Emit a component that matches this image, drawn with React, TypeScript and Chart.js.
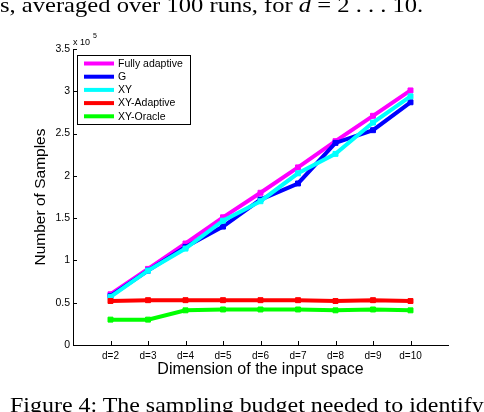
import { useEffect, useRef } from 'react'
import { Chart, registerables } from 'chart.js'

Chart.register(...registerables)

const dims = [2, 3, 4, 5, 6, 7, 8, 9, 10]
const seriesNames = ['Fully adaptive', 'G', 'XY', 'XY-Adaptive', 'XY-Oracle']
const seriesColors = ['#ff00ff', '#0000ff', '#00ffff', '#ff0000', '#00ff00']
const fullyAdaptive = [0.6, 0.9, 1.2, 1.51, 1.8, 2.1, 2.41, 2.71, 3.01]
const gValues = [0.58, 0.88, 1.16, 1.4, 1.72, 1.91, 2.39, 2.54, 2.87]
const xyValues = [0.57, 0.88, 1.14, 1.47, 1.7, 2.03, 2.26, 2.63, 2.94]
const xyAdaptive = [0.52, 0.53, 0.53, 0.53, 0.53, 0.53, 0.52, 0.53, 0.52]
const xyOracle = [0.3, 0.3, 0.41, 0.42, 0.42, 0.42, 0.41, 0.42, 0.41]
const yTicks = [0, 0.5, 1, 1.5, 2, 2.5, 3, 3.5]

const allSeries = [fullyAdaptive, gValues, xyValues, xyAdaptive, xyOracle]
const FONT = '"Liberation Sans", Arial, sans-serif'

// matlab-style extras: inward ticks, "x 10^5" and the boxed legend
const matlabPlugin = {
  id: 'matlabExtras',
  afterDraw(chart: Chart) {
    const { ctx, chartArea: a, scales } = chart
    const x = scales.x
    const y = scales.y
    ctx.save()
    ctx.strokeStyle = '#000'
    ctx.lineWidth = 1
    ctx.beginPath()
    yTicks.forEach((t) => {
      const py = Math.round(y.getPixelForValue(t)) + 0.5
      ctx.moveTo(a.left, py)
      ctx.lineTo(a.left + 4, py)
    })
    dims.forEach((d) => {
      const px = Math.round(x.getPixelForValue(d)) + 0.5
      ctx.moveTo(px, a.bottom)
      ctx.lineTo(px, a.bottom - 4)
    })
    ctx.stroke()

    ctx.fillStyle = '#000'
    ctx.textBaseline = 'alphabetic'
    ctx.textAlign = 'left'
    ctx.font = `9px ${FONT}`
    ctx.fillText('x 10', a.left, a.top - 4)
    ctx.font = `7px ${FONT}`
    ctx.fillText('5', a.left + 20, a.top - 11)

    // legend box
    const lx = 77.5
    const ly = 55.5
    const lw = 113
    const lh = 69
    ctx.fillStyle = '#fff'
    ctx.fillRect(lx, ly, lw, lh)
    ctx.strokeRect(lx, ly, lw, lh)
    ctx.font = `10.5px ${FONT}`
    ctx.textBaseline = 'middle'
    seriesNames.forEach((name, i) => {
      const ry = 63.5 + i * 13.2
      ctx.strokeStyle = seriesColors[i]
      ctx.lineWidth = 4
      ctx.beginPath()
      ctx.moveTo(84, ry)
      ctx.lineTo(114, ry)
      ctx.stroke()
      ctx.fillStyle = '#000'
      ctx.fillText(name, 118, ry + 0.5)
    })
    ctx.restore()
  },
}

function SamplesChart() {
  const canvasRef = useRef<HTMLCanvasElement | null>(null)
  const chartRef = useRef<Chart | null>(null)

  useEffect(() => {
    if (!canvasRef.current) return
    const ctx = canvasRef.current.getContext('2d')!

    chartRef.current = new Chart(ctx, {
      type: 'line',
      data: {
        datasets: allSeries.map((vals, i) => ({
          label: seriesNames[i],
          data: vals.map((v, j) => ({ x: dims[j], y: v })),
          borderColor: seriesColors[i],
          backgroundColor: seriesColors[i],
          borderWidth: 4,
          pointStyle: 'rect',
          pointRadius: 3.5,
          pointBorderWidth: 1,
          pointBorderColor: seriesColors[i],
          tension: 0,
          order: allSeries.length - i,
        })),
      },
      options: {
        responsive: false,
        animation: false,
        events: [],
        layout: { padding: { left: 0, top: 49, right: 36, bottom: 0 } },
        plugins: {
          legend: { display: false },
          tooltip: { enabled: false },
        },
        scales: {
          x: {
            type: 'linear',
            min: 1,
            max: 11,
            afterFit: (s: any) => {
              s.height = 67
            },
            afterBuildTicks: (s: any) => {
              s.ticks = dims.map((d) => ({ value: d }))
            },
            grid: { display: false, drawTicks: false },
            border: { display: true, color: '#000', width: 1 },
            ticks: {
              color: '#000',
              font: { family: FONT, size: 10 },
              padding: 5,
              maxRotation: 0,
              autoSkip: false,
              callback: (v: any) => 'd=' + v,
            },
            title: {
              display: true,
              text: 'Dimension of the input space',
              color: '#000',
              font: { family: FONT, size: 16 },
              padding: { top: 0, bottom: 33 },
            },
          },
          y: {
            min: 0,
            max: 3.5,
            afterFit: (s: any) => {
              s.width = 73
            },
            afterBuildTicks: (s: any) => {
              s.ticks = yTicks.map((t) => ({ value: t }))
            },
            grid: { display: false, drawTicks: false },
            border: { display: true, color: '#000', width: 1 },
            ticks: {
              color: '#000',
              font: { family: FONT, size: 10.5 },
              padding: 3,
              callback: (v: any) => String(v),
            },
            title: {
              display: true,
              text: 'Number of Samples',
              color: '#000',
              font: { family: FONT, size: 15.5 },
              padding: { top: 31, bottom: 0 },
            },
          },
        },
      },
      plugins: [matlabPlugin],
    })

    return () => chartRef.current?.destroy()
  }, [])

  return <canvas ref={canvasRef} width={484} height={412} style={{ display: 'block', width: 484, height: 412 }} />
}

export default function App() {
  const serif = '"Liberation Serif", "Times New Roman", serif'
  const caption = {
    position: 'absolute' as const,
    fontFamily: serif,
    fontSize: 21,
    lineHeight: 1,
    whiteSpace: 'nowrap' as const,
    color: '#000',
    transformOrigin: 'left top',
  }
  return (
    <div style={{ position: 'fixed', left: 0, top: 0, width: 484, height: 412, overflow: 'hidden', background: '#fff' }}>
      <SamplesChart />
      <div style={{ ...caption, left: 0, top: -5, transform: 'scaleX(1.17)' }}>
        s, averaged over 100 runs, for <i>d</i> = 2 . . . 10.
      </div>
      <div style={{ ...caption, left: 10, top: 395, transform: 'scaleX(1.14)' }}>
        Figure 4: The sampling budget needed to identify
      </div>
    </div>
  )
}
